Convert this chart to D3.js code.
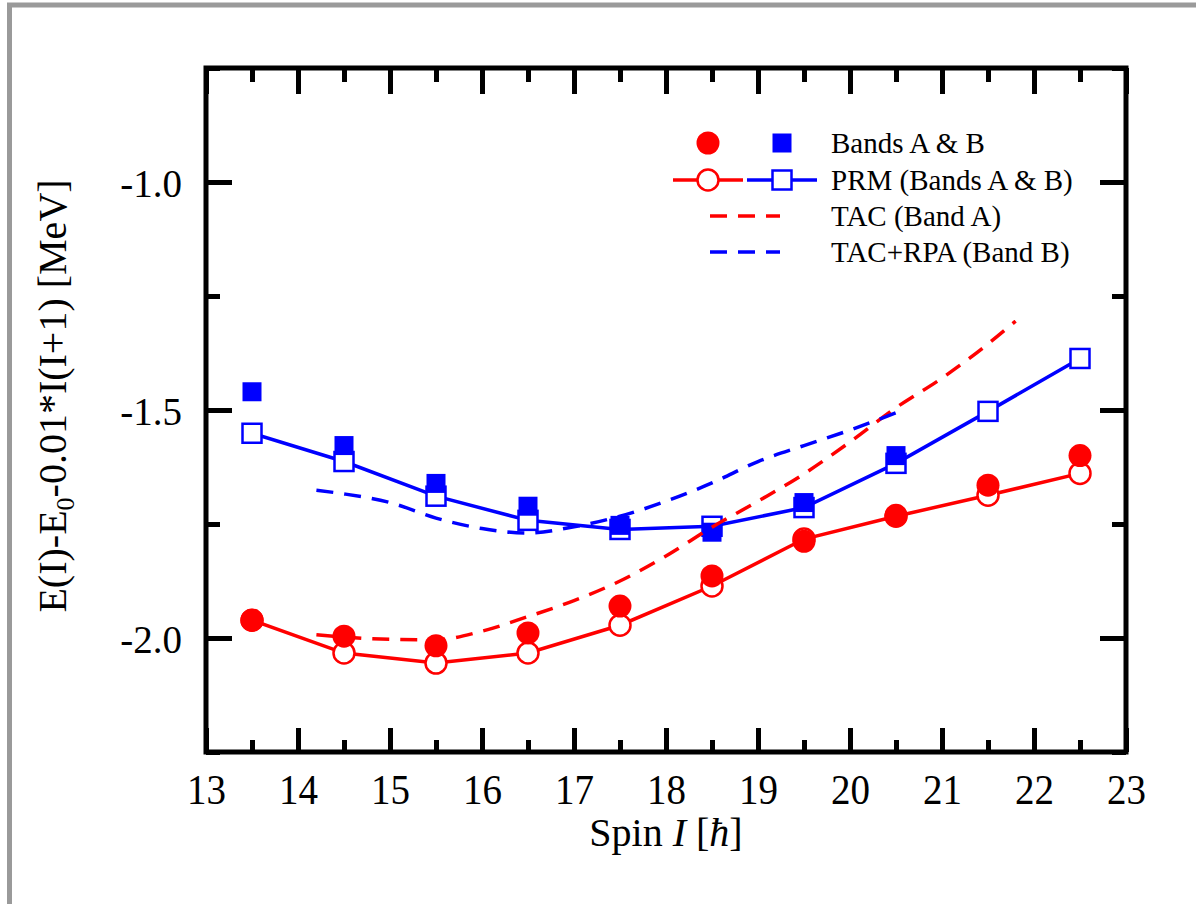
<!DOCTYPE html>
<html>
<head>
<meta charset="utf-8">
<script src="https://cdn.jsdelivr.net/npm/d3@7"></script>
<style>
  html, body { margin: 0; padding: 0; background: #fff; }
  svg { display: block; }
  text { font-family: "Liberation Serif", "Times New Roman", serif; fill: #000; }
</style>
</head>
<body>
<svg id="chart" width="1196" height="904"></svg>
<script>
// Spin values (in units of hbar)
const spins = [13.5, 14.5, 15.5, 16.5, 17.5, 18.5, 19.5, 20.5, 21.5, 22.5];
const spinsBandB = [13.5, 14.5, 15.5, 16.5, 17.5, 18.5, 19.5, 20.5];

// Experimental energies [MeV]
const bandAExp = [-1.961, -1.996, -2.017, -1.989, -1.930, -1.864, -1.788, -1.731, -1.665, -1.600];
const bandBExp = [-1.460, -1.578, -1.661, -1.711, -1.753, -1.768, -1.703, -1.600];

// Particle-rotor model results
const bandAPrm = [-1.961, -2.033, -2.055, -2.033, -1.972, -1.886, -1.783, -1.733, -1.687, -1.639];
const bandBPrm = [-1.551, -1.613, -1.689, -1.742, -1.762, -1.755, -1.714, -1.617, -1.503, -1.387];

// TAC (band A) and TAC+RPA (band B) curves
const tacSpin = [14.2, 14.5, 15.0, 15.5, 16.0, 16.5, 17.0, 17.5, 18.0, 18.5, 19.0, 19.5, 20.0, 20.5, 21.0, 21.5, 21.8];
const tacA    = [-1.993, -1.998, -2.003, -2.004, -1.985, -1.953, -1.918, -1.875, -1.820, -1.757, -1.700, -1.640, -1.570, -1.495, -1.430, -1.355, -1.305];
const rpaSpin = [14.2, 14.5, 15.0, 15.5, 16.0, 16.5, 17.0, 17.5, 18.0, 18.5, 19.0, 19.5, 20.0, 20.5];
const rpaB    = [-1.676, -1.684, -1.703, -1.737, -1.760, -1.770, -1.756, -1.733, -1.700, -1.660, -1.613, -1.578, -1.544, -1.506];

// Axis ticks
const xMajor = [13, 14, 15, 16, 17, 18, 19, 20, 21, 22, 23];
const xMinor = [13.5, 14.5, 15.5, 16.5, 17.5, 18.5, 19.5, 20.5, 21.5, 22.5];
const yMajor = [-2.0, -1.5, -1.0];
const yMinor = [-2.25, -1.75, -1.25, -0.75];

// Legend entries
const legendLabels = ["Bands A & B", "PRM (Bands A & B)", "TAC (Band A)", "TAC+RPA (Band B)"];

const RED = "#ff0000", BLUE = "#0000ff";
const svg = d3.select("#chart");

// outer grey border
svg.append("rect").attr("x", 9.5).attr("y", 5).attr("width", 1200).attr("height", 920)
  .attr("fill", "none").attr("stroke", "#9a9a9a").attr("stroke-width", 5);

const L = 206, R = 1126, T = 68, B = 752;
const x = d3.scaleLinear().domain([13, 23]).range([L, R]);
const y = d3.scaleLinear().domain([-2.25, -0.75]).range([B, T]);

const axes = svg.append("g");
function tickAxis(axisFn, scale, vals, size, tx, ty, labels, fmt) {
  const a = axisFn(scale).tickValues(vals).tickSizeInner(-size).tickSizeOuter(0)
    .tickPadding(labels ? size + 12 : 0);
  a.tickFormat(labels ? fmt : () => "");
  const g = axes.append("g").attr("transform", `translate(${tx},${ty})`).call(a);
  g.select(".domain").remove();
  g.selectAll(".tick line").attr("stroke", "#000").attr("stroke-width", 5);
  return g;
}
// bottom
const gxb = tickAxis(d3.axisBottom, x, xMajor, 24, 0, B, true, d3.format("d"));
gxb.selectAll(".tick text").attr("font-size", 39).attr("dy", "0.62em")
  .attr("transform", "translate(0,-12) scale(1,1.06)");
tickAxis(d3.axisBottom, x, xMinor, 12, 0, B, false);
// top
tickAxis(d3.axisTop, x, xMajor, 26, 0, T, false);
tickAxis(d3.axisTop, x, xMinor, 14, 0, T, false);
// left
const gyl = tickAxis(d3.axisLeft, y, yMajor, 26, L, 0, true, d3.format(".1f"));
gyl.selectAll(".tick text").attr("font-size", 39)
  .attr("transform", "translate(14,2)").text(d => d3.format(".1f")(d).replace("−", "-"));
tickAxis(d3.axisLeft, y, yMinor, 14, L, 0, false);
// right
tickAxis(d3.axisRight, y, yMajor, 26, R, 0, false);
tickAxis(d3.axisRight, y, yMinor, 14, R, 0, false);

// frame
svg.append("rect").attr("x", L).attr("y", T).attr("width", R - L).attr("height", B - T)
  .attr("fill", "none").attr("stroke", "#000").attr("stroke-width", 5);

// axis titles
const xt = svg.append("text").attr("x", (L + R) / 2).attr("y", 846)
  .attr("text-anchor", "middle").attr("font-size", 40);
xt.append("tspan").text("Spin ");
xt.append("tspan").attr("font-style", "italic").text("I");
xt.append("tspan").text(" [");
xt.append("tspan").attr("font-style", "italic").text("ħ");
xt.append("tspan").text("]");

const yt = svg.append("text").attr("transform", "translate(66,396) rotate(-90)")
  .attr("text-anchor", "middle").attr("font-size", 40);
yt.append("tspan").text("E(I)-E");
yt.append("tspan").attr("font-size", 26).attr("dy", 8).text("0");
yt.append("tspan").attr("dy", -8).text("-0.01*I(I+1) [MeV]");

const plot = svg.append("g");
const line = d3.line().x(d => x(d[0])).y(d => y(d[1]));
const curve = d3.line().x(d => x(d[0])).y(d => y(d[1])).curve(d3.curveMonotoneX);

// PRM lines and open markers
const prmA = spins.map((s, i) => [s, bandAPrm[i]]);
const prmB = spins.map((s, i) => [s, bandBPrm[i]]);
plot.append("path").attr("d", line(prmA)).attr("fill", "none").attr("stroke", RED).attr("stroke-width", 3.5);
plot.append("path").attr("d", line(prmB)).attr("fill", "none").attr("stroke", BLUE).attr("stroke-width", 3.5);
plot.selectAll(".oc").data(prmA).join("circle").attr("cx", d => x(d[0])).attr("cy", d => y(d[1]))
  .attr("r", 10.5).attr("fill", "#fff").attr("stroke", RED).attr("stroke-width", 2.5);
plot.selectAll(".os").data(prmB).join("rect").attr("x", d => x(d[0]) - 9.5).attr("y", d => y(d[1]) - 9.5)
  .attr("width", 19).attr("height", 19).attr("fill", "#fff").attr("stroke", BLUE).attr("stroke-width", 2.5);

// experimental filled markers
const expA = spins.map((s, i) => [s, bandAExp[i]]);
const expB = spinsBandB.map((s, i) => [s, bandBExp[i]]);
plot.selectAll(".fc").data(expA).join("circle").attr("cx", d => x(d[0])).attr("cy", d => y(d[1]))
  .attr("r", 11.5).attr("fill", RED);
plot.selectAll(".fs").data(expB).join("rect").attr("x", d => x(d[0]) - 9.5).attr("y", d => y(d[1]) - 9.5)
  .attr("width", 19).attr("height", 19).attr("fill", BLUE);

// TAC curves
plot.append("path").attr("d", curve(tacSpin.map((s, i) => [s, tacA[i]])))
  .attr("fill", "none").attr("stroke", RED).attr("stroke-width", 3.5).attr("stroke-dasharray", "17,11");
plot.append("path").attr("d", curve(rpaSpin.map((s, i) => [s, rpaB[i]])))
  .attr("fill", "none").attr("stroke", BLUE).attr("stroke-width", 3.5).attr("stroke-dasharray", "17,11");

// legend
const lg = svg.append("g");
const rowY = [143, 180, 216, 252];
const cx1 = 708, cx2 = 782, tx = 831;
lg.append("circle").attr("cx", cx1).attr("cy", rowY[0]).attr("r", 11.5).attr("fill", RED);
lg.append("rect").attr("x", cx2 - 9.5).attr("y", rowY[0] - 9.5).attr("width", 19).attr("height", 19).attr("fill", BLUE);
lg.append("line").attr("x1", 673).attr("x2", 743).attr("y1", rowY[1]).attr("y2", rowY[1]).attr("stroke", RED).attr("stroke-width", 3.5);
lg.append("line").attr("x1", 747).attr("x2", 817).attr("y1", rowY[1]).attr("y2", rowY[1]).attr("stroke", BLUE).attr("stroke-width", 3.5);
lg.append("circle").attr("cx", cx1).attr("cy", rowY[1]).attr("r", 10.5).attr("fill", "#fff").attr("stroke", RED).attr("stroke-width", 2.5);
lg.append("rect").attr("x", cx2 - 9.5).attr("y", rowY[1] - 9.5).attr("width", 19).attr("height", 19)
  .attr("fill", "#fff").attr("stroke", BLUE).attr("stroke-width", 2.5);
lg.append("line").attr("x1", 710).attr("x2", 780).attr("y1", rowY[2]).attr("y2", rowY[2])
  .attr("stroke", RED).attr("stroke-width", 3.5).attr("stroke-dasharray", "17,11");
lg.append("line").attr("x1", 710).attr("x2", 780).attr("y1", rowY[3]).attr("y2", rowY[3])
  .attr("stroke", BLUE).attr("stroke-width", 3.5).attr("stroke-dasharray", "17,11");
lg.selectAll(".lt").data(legendLabels).join("text").attr("x", tx).attr("y", (d, i) => rowY[i] + 10)
  .attr("font-size", 29).text(d => d);
</script>
</body>
</html>
